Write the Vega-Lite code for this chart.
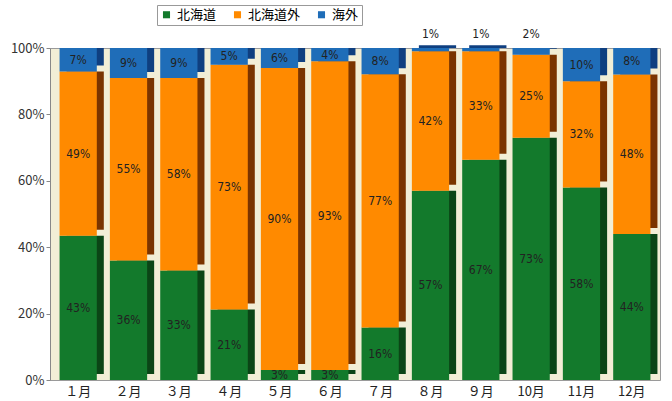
{
  "$schema": "https://vega.github.io/schema/vega-lite/v6.json",
  "width": 610,
  "height": 332,
  "autosize": "none",
  "padding": {"left": 50, "top": 48, "right": 12, "bottom": 21},
  "background": "white",
  "config": {"view": {"fill": "#f2eed6", "stroke": "#9a9a9a"}, "font": "Noto Sans CJK JP"},
  "data": {"values": [
    {"m": "１月", "s": "北海道", "v": 43}, {"m": "１月", "s": "北海道外", "v": 49}, {"m": "１月", "s": "海外", "v": 7},
    {"m": "２月", "s": "北海道", "v": 36}, {"m": "２月", "s": "北海道外", "v": 55}, {"m": "２月", "s": "海外", "v": 9},
    {"m": "３月", "s": "北海道", "v": 33}, {"m": "３月", "s": "北海道外", "v": 58}, {"m": "３月", "s": "海外", "v": 9},
    {"m": "４月", "s": "北海道", "v": 21}, {"m": "４月", "s": "北海道外", "v": 73}, {"m": "４月", "s": "海外", "v": 5},
    {"m": "５月", "s": "北海道", "v": 3}, {"m": "５月", "s": "北海道外", "v": 90}, {"m": "５月", "s": "海外", "v": 6},
    {"m": "６月", "s": "北海道", "v": 3}, {"m": "６月", "s": "北海道外", "v": 93}, {"m": "６月", "s": "海外", "v": 4},
    {"m": "７月", "s": "北海道", "v": 16}, {"m": "７月", "s": "北海道外", "v": 77}, {"m": "７月", "s": "海外", "v": 8},
    {"m": "８月", "s": "北海道", "v": 57}, {"m": "８月", "s": "北海道外", "v": 42}, {"m": "８月", "s": "海外", "v": 1},
    {"m": "９月", "s": "北海道", "v": 67}, {"m": "９月", "s": "北海道外", "v": 33}, {"m": "９月", "s": "海外", "v": 1},
    {"m": "10月", "s": "北海道", "v": 73}, {"m": "10月", "s": "北海道外", "v": 25}, {"m": "10月", "s": "海外", "v": 2},
    {"m": "11月", "s": "北海道", "v": 58}, {"m": "11月", "s": "北海道外", "v": 32}, {"m": "11月", "s": "海外", "v": 10},
    {"m": "12月", "s": "北海道", "v": 44}, {"m": "12月", "s": "北海道外", "v": 48}, {"m": "12月", "s": "海外", "v": 8}
  ]},
  "transform": [
    {"stack": "v", "groupby": ["m"], "offset": "normalize", "sort": [{"field": "s", "order": "ascending"}], "as": ["y0", "y1"]}
  ],
  "encoding": {
    "x": {
      "field": "m", "type": "nominal",
      "sort": ["１月","２月","３月","４月","５月","６月","７月","８月","９月","10月","11月","12月"],
      "scale": {"paddingInner": 0.26, "paddingOuter": 0.19},
      "axis": {"title": null, "ticks": false, "domain": false, "labelAngle": 0, "labelFontSize": 13, "labelColor": "#222", "labelPadding": 5}
    }
  },
  "layer": [
    {
      "mark": {"type": "bar", "xOffset": 7, "yOffset": -6},
      "encoding": {
        "y": {"field": "y0", "type": "quantitative", "scale": {"domain": [0, 1]},
          "axis": {"title": null, "format": ".0%", "values": [0, 0.2, 0.4, 0.6, 0.8, 1], "grid": false, "labelFontSize": 13, "labelColor": "#333", "domainColor": "#888", "tickColor": "#888", "tickSize": 4}},
        "y2": {"field": "y1"},
        "color": {"field": "s", "type": "nominal", "scale": {"domain": ["北海道", "北海道外", "海外"], "range": ["#0b4516", "#7a3400", "#0f3f80"]}, "legend": null}
      }
    },
    {
      "mark": {"type": "bar"},
      "encoding": {
        "y": {"field": "y0", "type": "quantitative"},
        "y2": {"field": "y1"},
        "color": {"field": "s", "type": "nominal", "scale": {"domain": ["北海道", "北海道外", "海外"], "range": ["#137a2c", "#ff8a00", "#1f6db8"]},
          "legend": {"title": null, "orient": "none", "legendX": 107, "legendY": -43, "direction": "horizontal", "strokeColor": "#999", "fillColor": "white", "padding": 3, "symbolType": "square", "symbolSize": 50, "labelFontSize": 13, "columnPadding": 14, "symbolStrokeWidth": 0}}
      }
    },
    {
      "transform": [
        {"filter": "!(datum.s == '海外' && datum.v <= 2)"},
        {"fold": ["y0", "y1"], "as": ["k", "yy"]},
        {"aggregate": [{"op": "mean", "field": "yy", "as": "mid"}], "groupby": ["m", "s", "v"]}
      ],
      "mark": {"type": "text", "font": "DejaVu Sans Condensed", "fontSize": 12, "color": "#222", "text": {"expr": "datum.v + '%'"}},
      "encoding": {"y": {"field": "mid", "type": "quantitative"}}
    },
    {
      "transform": [{"filter": "datum.s == '海外' && datum.v <= 2"}],
      "mark": {"type": "text", "font": "DejaVu Sans Condensed", "fontSize": 12, "color": "#222", "dy": -14, "text": {"expr": "datum.v + '%'"}},
      "encoding": {"y": {"field": "y1", "type": "quantitative"}}
    }
  ],
  "resolve": {"scale": {"color": "independent"}}
}
